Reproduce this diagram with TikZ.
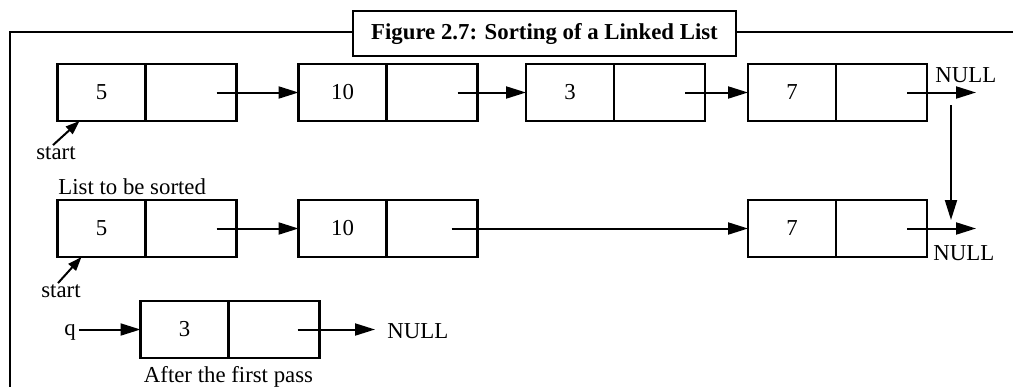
\documentclass[tikz,border=0pt]{standalone}
\usepackage{fontspec}
\setmainfont{Liberation Serif}
\usetikzlibrary{positioning,arrows.meta,calc}

\begin{document}
\begin{tikzpicture}[x=0.5pt, y=-0.5pt,
    every node/.style={font=\fontsize{11.4}{13}\selectfont},
    cell/.style={draw, line width=1.3pt, minimum height=28.5pt, inner sep=0pt, outer sep=0pt},
    valcell/.style={cell, minimum width=44pt},
    nextcell/.style={cell, minimum width=45.5pt},
    ptr/.style={line width=1pt, -{Triangle[length=10pt,width=6pt]}},
    startptr/.style={line width=1pt, -{Triangle[length=7pt,width=5pt]}}]
    \useasboundingbox (0,0) rectangle (1013,387);
    % frame and caption
    \draw[line width=1pt] (1013,32) -- (10,32) -- (10,387);
    \node[draw, line width=1.3pt, fill=white, minimum width=191.5pt, minimum height=22.5pt,
        font=\fontsize{11.4}{13}\selectfont\bfseries] (title) at (544.5,33.5) {Figure 2.7: Sorting of a Linked List};
    % list to be sorted
    \node[valcell] (a1) at (101.5,92.5) {5};
    \node[nextcell, right=0pt of a1] (a1n) {};
    \node[valcell] (b1) at (342.5,92.5) {10};
    \node[nextcell, right=0pt of b1] (b1n) {};
    \node[valcell] (c1) at (570,92.5) {3};
    \node[nextcell, right=0pt of c1] (c1n) {};
    \node[valcell] (d1) at (792,92.5) {7};
    \node[nextcell, right=0pt of d1] (d1n) {};
    \coordinate (null1) at (976,92.5);
    \draw[ptr] ([xshift=-10pt]a1n.east) -- (b1.west);
    \draw[ptr] ([xshift=-10pt]b1n.east) -- (c1.west);
    \draw[ptr] ([xshift=-10pt]c1n.east) -- (d1.west);
    \draw[ptr] ([xshift=-10pt]d1n.east) -- (null1);
    \node[anchor=base west, inner sep=0pt] (nulltext1) at (935,82) {NULL};
    \node[inner sep=0pt] (start1) at (56,153) {start};
    \draw[startptr] ($(start1.north)+(-3,-1)$) -- ([xshift=11pt]a1.south west);
    \node[anchor=base west, inner sep=0pt] (sorted) at (58,194) {List to be sorted};
    % the down step between the two lists
    \coordinate (down1) at (951,105);
    \coordinate (down2) at (951,220);
    \draw[ptr] (down1) -- (down2);
    % list after the first pass
    \node[valcell] (a2) at (101.5,228.5) {5};
    \node[nextcell, right=0pt of a2] (a2n) {};
    \node[valcell] (b2) at (342.5,228.5) {10};
    \node[nextcell, right=0pt of b2] (b2n) {};
    \node[valcell] (d2) at (792,228.5) {7};
    \node[nextcell, right=0pt of d2] (d2n) {};
    \coordinate (null2) at (976,228.5);
    \draw[ptr] ([xshift=-10pt]a2n.east) -- (b2.west);
    \draw[ptr] ([xshift=-13pt]b2n.east) -- (d2.west);
    \draw[ptr] ([xshift=-10pt]d2n.east) -- (null2);
    \node[anchor=base west, inner sep=0pt] (nulltext2) at (933,260) {NULL};
    \node[inner sep=0pt] (start2) at (61,291) {start};
    \draw[startptr] ($(start2.north)+(-3,-1)$) -- ([xshift=12pt]a2.south west);
    % removed node
    \node[valcell] (q1) at (184.5,329.5) {3};
    \node[nextcell, right=0pt of q1] (q1n) {};
    \node[anchor=base, inner sep=1.5pt] (q) at (70,335) {q};
    \coordinate (null3) at (375,329.5);
    \draw[ptr] (q.east |- q1.west) -- (q1.west);
    \draw[ptr] ([xshift=-11pt]q1n.east) -- (null3);
    \node[anchor=base west, inner sep=0pt] (nulltext3) at (387,338) {NULL};
    \node[below=4pt of q1n.south west, inner sep=0pt] (pass) {After the first pass};
\end{tikzpicture}
\end{document}
